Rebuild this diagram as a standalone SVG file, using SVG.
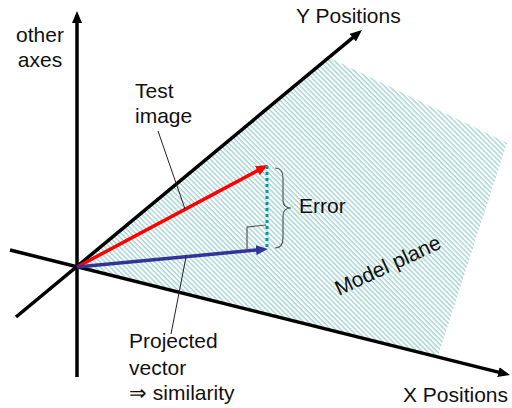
<svg xmlns="http://www.w3.org/2000/svg" width="512" height="408" viewBox="0 0 512 408">
<style>
text{font-family:"Liberation Sans",Arial,sans-serif;font-size:21px;fill:#111}
.axis{stroke:#000;stroke-width:3.5;fill:none}
.leader{stroke:#222;stroke-width:1;fill:none}
.thin{stroke:#555;stroke-width:1.2;fill:none}
</style>
<defs>
<pattern id="hatch" patternUnits="userSpaceOnUse" width="3.5" height="3.5" patternTransform="rotate(-45)">
<rect width="3.5" height="3.5" fill="#fff"/>
<line x1="1" y1="0" x2="1" y2="3.5" stroke="#96cccc" stroke-width="1.2"/>
</pattern>
<marker id="ahk" viewBox="0 0 12 10" refX="2" refY="5" markerWidth="12" markerHeight="10" markerUnits="userSpaceOnUse" orient="auto"><path d="M0,0 L12,5 L0,10 z" fill="#000"/></marker>
<marker id="ahr" viewBox="0 0 12 10" refX="2" refY="5" markerWidth="12" markerHeight="10" markerUnits="userSpaceOnUse" orient="auto"><path d="M0,0 L12,5 L0,10 z" fill="#ff0000"/></marker>
<marker id="ahb" viewBox="0 0 12 10" refX="2" refY="5" markerWidth="12" markerHeight="10" markerUnits="userSpaceOnUse" orient="auto"><path d="M0,0 L12,5 L0,10 z" fill="#333399"/></marker>
</defs>
<g id="model-plane">
<polygon points="77,267 330,58 507,143 438,356" fill="url(#hatch)"/>
<text transform="translate(339,296) rotate(-25)">Model plane</text>
</g>
<g id="connectors">
<line class="axis" x1="77" y1="377" x2="77" y2="21" marker-end="url(#ahk)"/>
<line class="axis" x1="16" y1="317" x2="354.3" y2="36.4" marker-end="url(#ahk)"/>
<line class="axis" x1="10" y1="250" x2="500.3" y2="372.6" marker-end="url(#ahk)"/>
<line x1="77" y1="267" x2="259.2" y2="169.7" stroke="#ff0000" stroke-width="3.5" marker-end="url(#ahr)"/>
<line x1="77" y1="267" x2="258" y2="249.9" stroke="#333399" stroke-width="3.5" marker-end="url(#ahb)"/>
<line x1="267" y1="166" x2="267" y2="249" stroke="#009999" stroke-width="3" stroke-dasharray="3,3"/>
<polyline class="thin" points="247,249 247,227 266,225"/>
<path class="thin" d="M275,168 Q283,168 283,178 L283,200 Q283,208 291,208 Q283,208 283,216 L283,238 Q283,248 275,248"/>
<line class="leader" x1="158" y1="131" x2="185" y2="209"/>
<line class="leader" x1="186" y1="257" x2="171" y2="334"/>
</g>
<g id="other-axes"><text x="40" y="42" text-anchor="middle">other</text><text x="40" y="67" text-anchor="middle">axes</text></g>
<g id="y-positions"><text x="296" y="23">Y Positions</text></g>
<g id="x-positions"><text x="403" y="402">X Positions</text></g>
<g id="test-image"><text x="135" y="98">Test</text><text x="135" y="123">image</text></g>
<g id="error"><text x="299" y="213">Error</text></g>
<g id="projected-vector"><text x="129" y="348">Projected</text><text x="129" y="375">vector</text><text x="129" y="400">⇒ similarity</text></g>
</svg>
